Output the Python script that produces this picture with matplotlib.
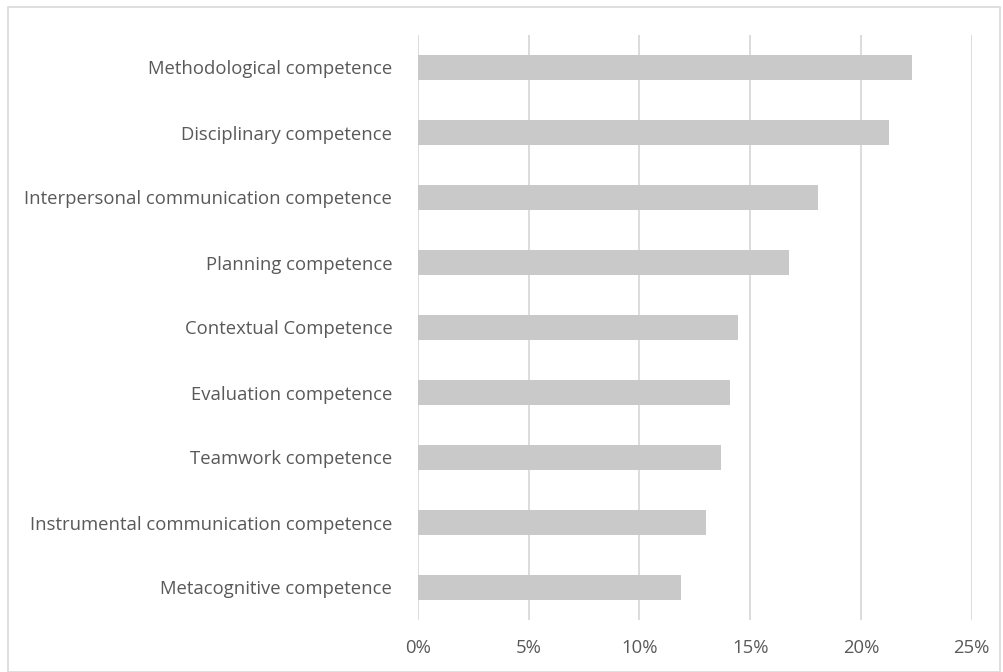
import matplotlib
matplotlib.use("Agg")
import matplotlib.pyplot as plt
from matplotlib.ticker import FuncFormatter, MultipleLocator
from matplotlib.patches import Rectangle

categories = [
    "Methodological competence",
    "Disciplinary competence",
    "Interpersonal communication competence",
    "Planning competence",
    "Contextual Competence",
    "Evaluation competence",
    "Teamwork competence",
    "Instrumental communication competence",
    "Metacognitive competence",
]
values = [0.223, 0.2126, 0.1807, 0.1676, 0.1447, 0.1408, 0.1369, 0.130, 0.1189]

W, H = 1004, 672
fig = plt.figure(figsize=(W / 100, H / 100), dpi=100)
ax = fig.add_axes([418 / W, 1 - 620 / H, (971.7 - 418) / W, (620 - 35) / H])

y = list(range(len(categories)))
ax.barh(y, values, height=0.377, color="#c9c9c9", zorder=3)
ax.set_ylim(len(categories) - 0.5, -0.5)
ax.set_xlim(0, 0.25)
ax.xaxis.set_major_locator(MultipleLocator(0.05))
ax.xaxis.set_major_formatter(FuncFormatter(lambda v, p: f"{v*100:.0f}%"))
ax.set_yticks(y)
ax.set_yticklabels(categories)
ax.grid(axis="x", color="#d9d9d9", linewidth=1.3, zorder=0)
for s in ax.spines.values():
    s.set_visible(False)
ax.tick_params(axis="both", length=0, colors="#595959", labelsize=13.3)
ax.tick_params(axis="y", pad=18.5)
ax.tick_params(axis="x", pad=14)
for lbl in ax.get_xticklabels() + ax.get_yticklabels():
    lbl.set_fontfamily("Open Sans")
    lbl.set_color("#595959")

fig.patches.append(Rectangle((8 / W, 0), (W - 12) / W, 1 - 7 / H, transform=fig.transFigure,
                             fill=False, edgecolor="#d9d9d9", linewidth=1.2))

fig.savefig("out.png", dpi=100)
